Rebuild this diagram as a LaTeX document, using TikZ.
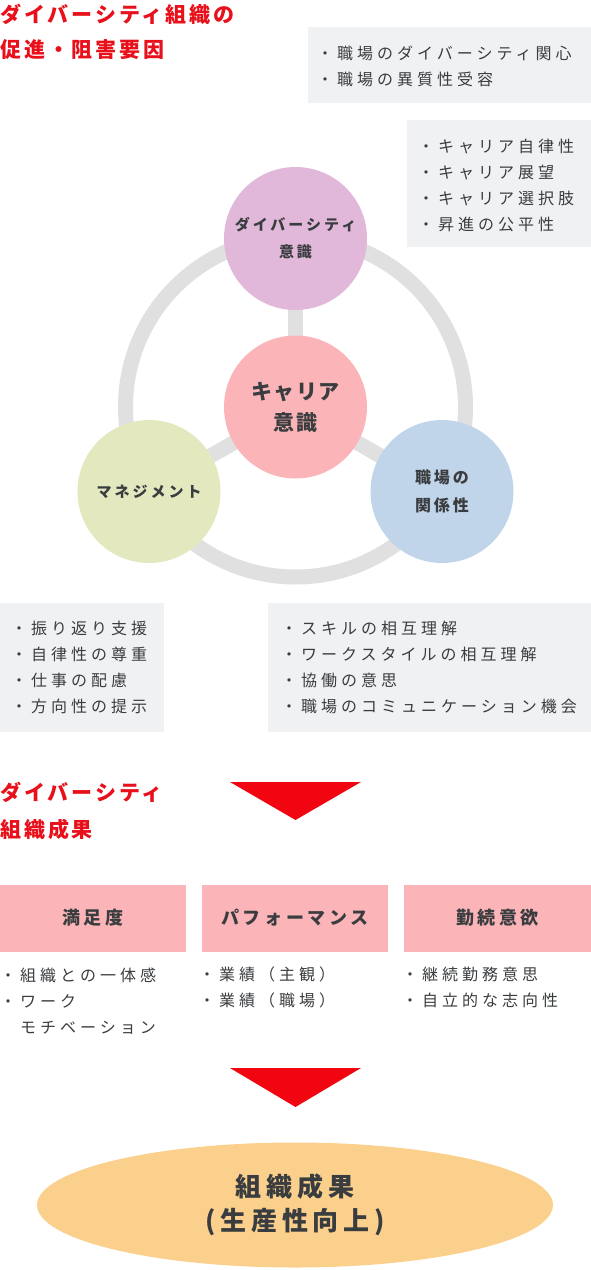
\documentclass[tikz,border=0pt]{standalone}
\usepackage{fontspec}
\newfontfamily\jp[LetterSpace=20]{Noto Sans CJK JP}
\newfontfamily\jpwide[LetterSpace=25]{Noto Sans CJK JP}
\newfontfamily\jphead[LetterSpace=14]{Noto Sans CJK JP}
\newfontfamily\jpmid[LetterSpace=18]{Noto Sans CJK JP}
\newfontfamily\jpnarrow[LetterSpace=6]{Noto Sans CJK JP}
\usetikzlibrary{backgrounds,shapes.geometric}
\definecolor{titlered}{HTML}{E8101A}
\definecolor{arrowred}{HTML}{F00511}
\definecolor{boxgray}{HTML}{F0F1F3}
\definecolor{textgray}{HTML}{3A3D40}
\definecolor{ringgray}{HTML}{E0E0E0}
\definecolor{careerpink}{HTML}{FBB4B7}
\definecolor{diverlilac}{HTML}{E1B8DA}
\definecolor{mgmtgreen}{HTML}{E3E8BF}
\definecolor{placeblue}{HTML}{C1D5EA}
\definecolor{resultorange}{HTML}{FBD08C}
\tikzset{
  heading/.style={anchor=west,inner sep=0pt,text=titlered,font=\jphead\bfseries\fontsize{21}{24}\selectfont},
  notes/.style={anchor=west,inner sep=0pt,align=left,text=textgray,font=\jpwide\fontsize{16}{26}\selectfont},
  bubble/.style={circle,minimum size=143pt,inner sep=0pt,align=center,text=textgray,font=\jp\bfseries\fontsize{15}{27}\selectfont},
  outcome/.style={minimum width=186pt,minimum height=67pt,inner sep=0pt,fill=careerpink,text=textgray,font=\jp\bfseries\fontsize{18}{20}\selectfont},
  downarrow/.style={fill=arrowred},
  spoke/.style={ringgray,line width=15pt},
}
\begin{document}
\begin{tikzpicture}[x=1pt,y=-1pt]
\useasboundingbox (0,0) rectangle (591,1270);
% factors
\node[heading] (title1) at (0,14) {ダイバーシティ組織の};
\node[heading] (title2) at (0,50) {促進・阻害要因};
\fill[boxgray] (308,27) rectangle (591,103);
\node[notes] (noteDiver) at (317,66.5) {・職場のダイバーシティ関心\\・職場の異質性受容};
\fill[boxgray] (407,120) rectangle (591,247);
\node[notes] (noteCareer) at (418,185) {・キャリア自律性\\・キャリア展望\\・キャリア選択肢\\・昇進の公平性};
\fill[boxgray] (0,603) rectangle (164,732);
\node[notes] (noteMgmt) at (11,667.5) {・振り返り支援\\・自律性の尊重\\・仕事の配慮\\・方向性の提示};
\fill[boxgray] (268,603) rectangle (591,732);
\node[notes] (notePlace) at (281,667.5) {・スキルの相互理解\\・ワークスタイルの相互理解\\・協働の意思\\・職場のコミュニケーション機会};
% circles
\node[bubble,fill=careerpink,font=\jpnarrow\bfseries\fontsize{21}{31}\selectfont] (career) at (295.5,407) {キャリア\\意識};
\node[bubble,fill=diverlilac] (diver) at (295.5,238.5) {ダイバーシティ\\意識};
\node[bubble,fill=mgmtgreen] (mgmt) at (149,491.5) {マネジメント};
\node[bubble,fill=placeblue,font=\jpmid\bfseries\fontsize{16}{28}\selectfont] (place) at (442,491.5) {職場の\\関係性};
\begin{scope}[on background layer]
\draw[spoke] (career.center) circle (170);
\foreach \n in {diver,mgmt,place}
  \draw[spoke] (career.center) -- (\n.center);
\end{scope}
% outcomes
\node[heading] (title3) at (0,792) {ダイバーシティ};
\node[heading] (title4) at (0,829) {組織成果};
\fill[downarrow] (230,782) -- (361,782) -- (295.5,820) -- cycle;
\node[outcome] (sat) at (93,918) {満足度};
\node[outcome] (perf) at (295,918) {パフォーマンス};
\node[outcome,minimum width=187pt] (ret) at (497.5,918) {勤続意欲};
\node[notes] (noteSat) at (0,1001) {・組織との一体感\\・ワーク\\　モチベーション};
\node[notes] (notePerf) at (199,987.5) {・業績（主観）\\・業績（職場）};
\node[notes] (noteRet) at (402,987.5) {・継続勤務意思\\・自立的な志向性};
\fill[downarrow] (230,1068) -- (361,1068) -- (295.5,1107) -- cycle;
\node[ellipse,minimum width=516pt,minimum height=125pt,inner sep=0pt,fill=resultorange,align=center,text=textgray,
  font=\jpmid\bfseries\fontsize{26}{34}\selectfont] (result) at (295,1205) {組織成果\\(生産性向上)};
\end{tikzpicture}
\end{document}
